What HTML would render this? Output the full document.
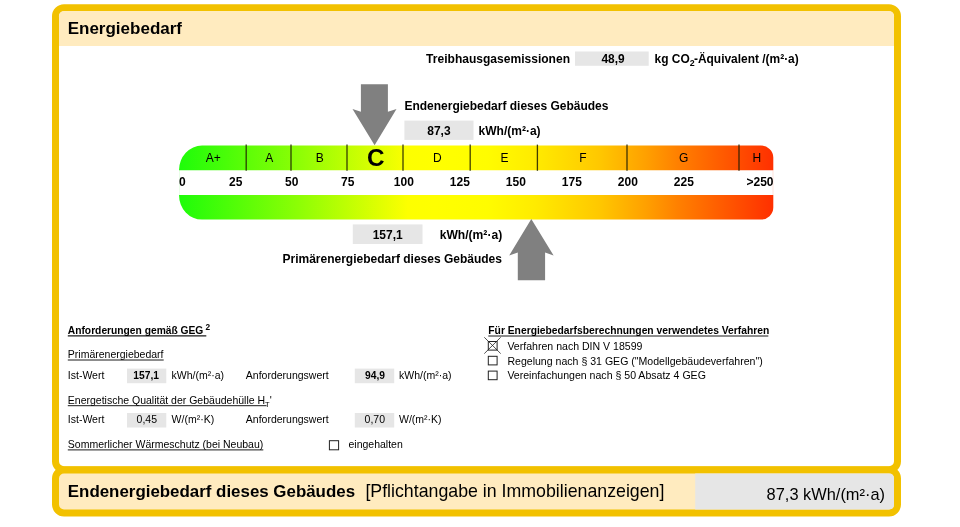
<!DOCTYPE html>
<html lang="de">
<head>
<meta charset="utf-8">
<title>Energiebedarf</title>
<style>
html,body{margin:0;padding:0;background:#fff;}
body{width:960px;height:527px;position:relative;overflow:hidden;font-family:"Liberation Sans",sans-serif;color:#000;}
.t{position:absolute;white-space:nowrap;margin:0;padding:0;}
svg{position:absolute;left:0;top:0;}
</style>
</head>
<body>
<svg width="960" height="527" viewBox="0 0 960 527">
<rect x="55.50" y="7.80" width="842.00" height="461.90" rx="8.5" ry="8.5" fill="#fff" stroke="#f2c100" stroke-width="7.0"/>
<path d="M59.00 46 L59.00 16.30 Q59.00 11.30 64.00 11.30 L889.00 11.30 Q894.00 11.30 894.00 16.30 L894.00 46 Z" fill="#ffebbf"/>
<rect x="55.50" y="470.00" width="842.00" height="42.90" rx="8.5" ry="8.5" fill="#ffebbf" stroke="#f2c100" stroke-width="7.0"/>
<path d="M695.2 473.50 L889.00 473.50 Q894.00 473.50 894.00 478.50 L894.00 504.40 Q894.00 509.40 889.00 509.40 L695.2 509.40 Z" fill="#e6e6e6"/>
<rect x="575.00" y="51.50" width="73.70" height="14.30" fill="#e6e6e6" />
<rect x="404.40" y="120.60" width="69.10" height="19.30" fill="#e6e6e6" />
<rect x="352.80" y="224.40" width="69.70" height="19.60" fill="#e6e6e6" />
<defs><linearGradient id="g" x1="179" y1="0" x2="773" y2="0" gradientUnits="userSpaceOnUse">
<stop offset="0" stop-color="#1efc0a"/><stop offset="0.2" stop-color="#8cfe05"/><stop offset="0.385" stop-color="#fdff00"/><stop offset="0.43" stop-color="#ffff00"/><stop offset="0.52" stop-color="#fffc00"/><stop offset="0.60" stop-color="#ffeb00"/><stop offset="0.707" stop-color="#ffc800"/><stop offset="0.786" stop-color="#ffa000"/><stop offset="0.84" stop-color="#ff8000"/><stop offset="1" stop-color="#ff3000"/></linearGradient></defs>
<path d="M179 170.3 A23 24.8 0 0 1 202 145.5 L760.5 145.5 A12.5 12 0 0 1 773.3 157.5 L773.3 170.3 Z" fill="url(#g)"/>
<path d="M179 195 L773.3 195 L773.3 207.6 A12.5 12 0 0 1 760.5 219.6 L202 219.6 A23 24.6 0 0 1 179 195 Z" fill="url(#g)"/>
<line x1="246.2" y1="144.6" x2="246.2" y2="170.8" stroke="#1e1e00" stroke-opacity="0.85" stroke-width="1.3"/>
<line x1="291.0" y1="144.6" x2="291.0" y2="170.8" stroke="#1e1e00" stroke-opacity="0.85" stroke-width="1.3"/>
<line x1="347.0" y1="144.6" x2="347.0" y2="170.8" stroke="#1e1e00" stroke-opacity="0.85" stroke-width="1.3"/>
<line x1="403.0" y1="144.6" x2="403.0" y2="170.8" stroke="#1e1e00" stroke-opacity="0.85" stroke-width="1.3"/>
<line x1="470.2" y1="144.6" x2="470.2" y2="170.8" stroke="#1e1e00" stroke-opacity="0.85" stroke-width="1.3"/>
<line x1="537.4" y1="144.6" x2="537.4" y2="170.8" stroke="#1e1e00" stroke-opacity="0.85" stroke-width="1.3"/>
<line x1="627.0" y1="144.6" x2="627.0" y2="170.8" stroke="#1e1e00" stroke-opacity="0.85" stroke-width="1.3"/>
<line x1="739.0" y1="144.6" x2="739.0" y2="170.8" stroke="#1e1e00" stroke-opacity="0.85" stroke-width="1.3"/>
<rect x="772.7" y="170.3" width="0.6" height="24.7" fill="#ff3000" fill-opacity="0.22"/>
<rect x="179" y="170.3" width="0.5" height="24.7" fill="#1efc0a" fill-opacity="0.18"/>
<path d="M360.9 84.3 L387.9 84.3 L387.9 111.8 L396.5 108.9 L374.6 145.2 L352.5 108.9 L360.9 111.8 Z" fill="#808080"/>
<path d="M531.3 218.9 L553.6 255.6 L545.1 252.6 L545.1 280.3 L517.8 280.3 L517.8 252.6 L509.2 255.6 Z" fill="#808080"/>
<line x1="67.80" y1="335.80" x2="206.30" y2="335.80" stroke="#1a1a1a" stroke-width="1.2"/>
<line x1="67.80" y1="360.00" x2="163.70" y2="360.00" stroke="#1a1a1a" stroke-width="1.0"/>
<rect x="127.00" y="368.60" width="39.30" height="14.60" fill="#e6e6e6" />
<rect x="354.80" y="368.60" width="39.40" height="14.60" fill="#e6e6e6" />
<rect x="127.00" y="413.00" width="39.30" height="14.50" fill="#e6e6e6" />
<rect x="354.80" y="413.00" width="39.40" height="14.50" fill="#e6e6e6" />
<line x1="67.80" y1="405.70" x2="266.50" y2="405.70" stroke="#1a1a1a" stroke-width="1.0"/>
<line x1="67.80" y1="449.90" x2="263.30" y2="449.90" stroke="#1a1a1a" stroke-width="1.0"/>
<rect x="329.40" y="440.70" width="9.20" height="9.10" fill="#fff" stroke="#222" stroke-width="1"/>
<line x1="488.30" y1="336.00" x2="768.30" y2="336.00" stroke="#1a1a1a" stroke-width="1.2"/>
<rect x="488.30" y="341.50" width="8.80" height="8.60" fill="#fff" stroke="#222" stroke-width="1"/>
<rect x="488.30" y="356.30" width="8.80" height="8.60" fill="#fff" stroke="#222" stroke-width="1"/>
<rect x="488.30" y="371.10" width="8.80" height="8.60" fill="#fff" stroke="#222" stroke-width="1"/>
<path d="M484.3 337.3 L500.7 353.6 M500.7 337.3 L484.3 353.6" stroke="#222" stroke-width="0.8" fill="none"/>
</svg>
<div class="t" style="left:67.70px;top:18.62px;font-size:17px;line-height:18.989px;font-weight:bold;">Energiebedarf</div>
<div class="t" style="left:67.80px;top:482.51px;font-size:16.9px;line-height:18.877px;font-weight:bold;">Endenergiebedarf dieses Gebäudes</div>
<div class="t" style="left:365.40px;top:481.74px;font-size:17.75px;line-height:19.827px;">[Pflichtangabe in Immobilienanzeigen]</div>
<div class="t" style="left:700.00px;top:484.96px;font-size:16.4px;line-height:18.319px;width:185.00px;text-align:right;">87,3 kWh/(m²·a)</div>
<div class="t" style="left:426.10px;top:52.59px;font-size:12.05px;line-height:13.460px;font-weight:bold;">Treibhausgasemissionen</div>
<div class="t" style="left:575.00px;top:52.73px;font-size:11.9px;line-height:13.292px;font-weight:bold;width:76.00px;text-align:center;">48,9</div>
<div class="t" style="left:654.60px;top:52.69px;font-size:11.95px;line-height:13.348px;font-weight:bold;">kg CO<sub style="font-size:8.8px;line-height:0;vertical-align:baseline;position:relative;top:3.3px;letter-spacing:-0.7px;">2</sub>-Äquivalent /(m²·a)</div>
<div class="t" style="left:404.40px;top:99.94px;font-size:12px;line-height:13.404px;font-weight:bold;">Endenergiebedarf dieses Gebäudes</div>
<div class="t" style="left:404.40px;top:124.94px;font-size:12px;line-height:13.404px;font-weight:bold;width:69.10px;text-align:center;">87,3</div>
<div class="t" style="left:478.60px;top:124.94px;font-size:12.0px;line-height:13.404px;font-weight:bold;">kWh/(m²·a)</div>
<div class="t" style="left:352.80px;top:229.24px;font-size:12px;line-height:13.404px;font-weight:bold;width:69.70px;text-align:center;">157,1</div>
<div class="t" style="left:439.70px;top:229.15px;font-size:12.1px;line-height:13.516px;font-weight:bold;">kWh/(m²·a)</div>
<div class="t" style="left:282.50px;top:252.54px;font-size:12px;line-height:13.404px;font-weight:bold;">Primärenergiebedarf dieses Gebäudes</div>
<div class="t" style="left:179.70px;top:152.44px;font-size:12px;line-height:13.404px;width:67.20px;text-align:center;">A+</div>
<div class="t" style="left:246.90px;top:152.44px;font-size:12px;line-height:13.404px;width:44.80px;text-align:center;">A</div>
<div class="t" style="left:291.70px;top:152.44px;font-size:12px;line-height:13.404px;width:56.00px;text-align:center;">B</div>
<div class="t" style="left:347.70px;top:144.21px;font-size:24.3px;line-height:27.143px;font-weight:bold;width:56.00px;text-align:center;">C</div>
<div class="t" style="left:403.70px;top:152.44px;font-size:12px;line-height:13.404px;width:67.20px;text-align:center;">D</div>
<div class="t" style="left:470.90px;top:152.44px;font-size:12px;line-height:13.404px;width:67.20px;text-align:center;">E</div>
<div class="t" style="left:538.10px;top:152.44px;font-size:12px;line-height:13.404px;width:89.60px;text-align:center;">F</div>
<div class="t" style="left:627.70px;top:152.44px;font-size:12px;line-height:13.404px;width:112.00px;text-align:center;">G</div>
<div class="t" style="left:739.70px;top:152.44px;font-size:12px;line-height:13.404px;width:34.05px;text-align:center;">H</div>
<div class="t" style="left:178.90px;top:176.44px;font-size:12px;line-height:13.404px;font-weight:bold;">0</div>
<div class="t" style="left:205.80px;top:176.44px;font-size:12px;line-height:13.404px;font-weight:bold;width:60.00px;text-align:center;">25</div>
<div class="t" style="left:261.80px;top:176.44px;font-size:12px;line-height:13.404px;font-weight:bold;width:60.00px;text-align:center;">50</div>
<div class="t" style="left:317.80px;top:176.44px;font-size:12px;line-height:13.404px;font-weight:bold;width:60.00px;text-align:center;">75</div>
<div class="t" style="left:373.80px;top:176.44px;font-size:12px;line-height:13.404px;font-weight:bold;width:60.00px;text-align:center;">100</div>
<div class="t" style="left:429.80px;top:176.44px;font-size:12px;line-height:13.404px;font-weight:bold;width:60.00px;text-align:center;">125</div>
<div class="t" style="left:485.80px;top:176.44px;font-size:12px;line-height:13.404px;font-weight:bold;width:60.00px;text-align:center;">150</div>
<div class="t" style="left:541.80px;top:176.44px;font-size:12px;line-height:13.404px;font-weight:bold;width:60.00px;text-align:center;">175</div>
<div class="t" style="left:597.80px;top:176.44px;font-size:12px;line-height:13.404px;font-weight:bold;width:60.00px;text-align:center;">200</div>
<div class="t" style="left:653.80px;top:176.44px;font-size:12px;line-height:13.404px;font-weight:bold;width:60.00px;text-align:center;">225</div>
<div class="t" style="left:700.00px;top:176.44px;font-size:12px;line-height:13.404px;font-weight:bold;width:73.50px;text-align:right;">&gt;250</div>
<div class="t" style="left:67.80px;top:325.32px;font-size:10.25px;line-height:11.449px;font-weight:bold;">Anforderungen gemäß GEG</div>
<div class="t" style="left:205.50px;top:322.89px;font-size:8.3px;line-height:9.271px;font-weight:bold;">2</div>
<div class="t" style="left:67.80px;top:349.30px;font-size:10.5px;line-height:11.729px;">Primärenergiebedarf</div>
<div class="t" style="left:67.80px;top:370.30px;font-size:10.5px;line-height:11.729px;">Ist-Wert</div>
<div class="t" style="left:127.00px;top:369.52px;font-size:10.25px;line-height:11.449px;font-weight:bold;width:32.00px;text-align:right;">157,1</div>
<div class="t" style="left:171.60px;top:370.30px;font-size:10.5px;line-height:11.729px;">kWh/(m²·a)</div>
<div class="t" style="left:245.80px;top:370.30px;font-size:10.5px;line-height:11.729px;">Anforderungswert</div>
<div class="t" style="left:354.80px;top:369.52px;font-size:10.25px;line-height:11.449px;font-weight:bold;width:30.20px;text-align:right;">94,9</div>
<div class="t" style="left:399.00px;top:370.30px;font-size:10.5px;line-height:11.729px;">kWh/(m²·a)</div>
<div class="t" style="left:67.80px;top:414.30px;font-size:10.5px;line-height:11.729px;">Ist-Wert</div>
<div class="t" style="left:127.00px;top:414.30px;font-size:10.5px;line-height:11.729px;width:30.00px;text-align:right;">0,45</div>
<div class="t" style="left:171.60px;top:414.30px;font-size:10.5px;line-height:11.729px;">W/(m²·K)</div>
<div class="t" style="left:245.80px;top:414.30px;font-size:10.5px;line-height:11.729px;">Anforderungswert</div>
<div class="t" style="left:354.80px;top:414.30px;font-size:10.5px;line-height:11.729px;width:30.20px;text-align:right;">0,70</div>
<div class="t" style="left:399.00px;top:414.30px;font-size:10.5px;line-height:11.729px;">W/(m²·K)</div>
<div class="t" style="left:67.80px;top:395.00px;font-size:10.5px;line-height:11.729px;">Energetische Qualität der Gebäudehülle H<span style="font-size:7.5px;line-height:0;position:relative;top:2.8px;">T</span>'</div>
<div class="t" style="left:67.80px;top:439.30px;font-size:10.5px;line-height:11.729px;">Sommerlicher Wärmeschutz (bei Neubau)</div>
<div class="t" style="left:348.50px;top:439.30px;font-size:10.5px;line-height:11.729px;">eingehalten</div>
<div class="t" style="left:488.30px;top:325.48px;font-size:10.3px;line-height:11.505px;font-weight:bold;">Für Energiebedarfsberechnungen verwendetes Verfahren</div>
<div class="t" style="left:507.40px;top:340.93px;font-size:10.57px;line-height:11.807px;">Verfahren nach DIN V 18599</div>
<div class="t" style="left:507.40px;top:355.73px;font-size:10.57px;line-height:11.807px;">Regelung nach § 31 GEG ("Modellgebäudeverfahren")</div>
<div class="t" style="left:507.40px;top:370.33px;font-size:10.57px;line-height:11.807px;">Vereinfachungen nach § 50 Absatz 4 GEG</div>
</body>
</html>
